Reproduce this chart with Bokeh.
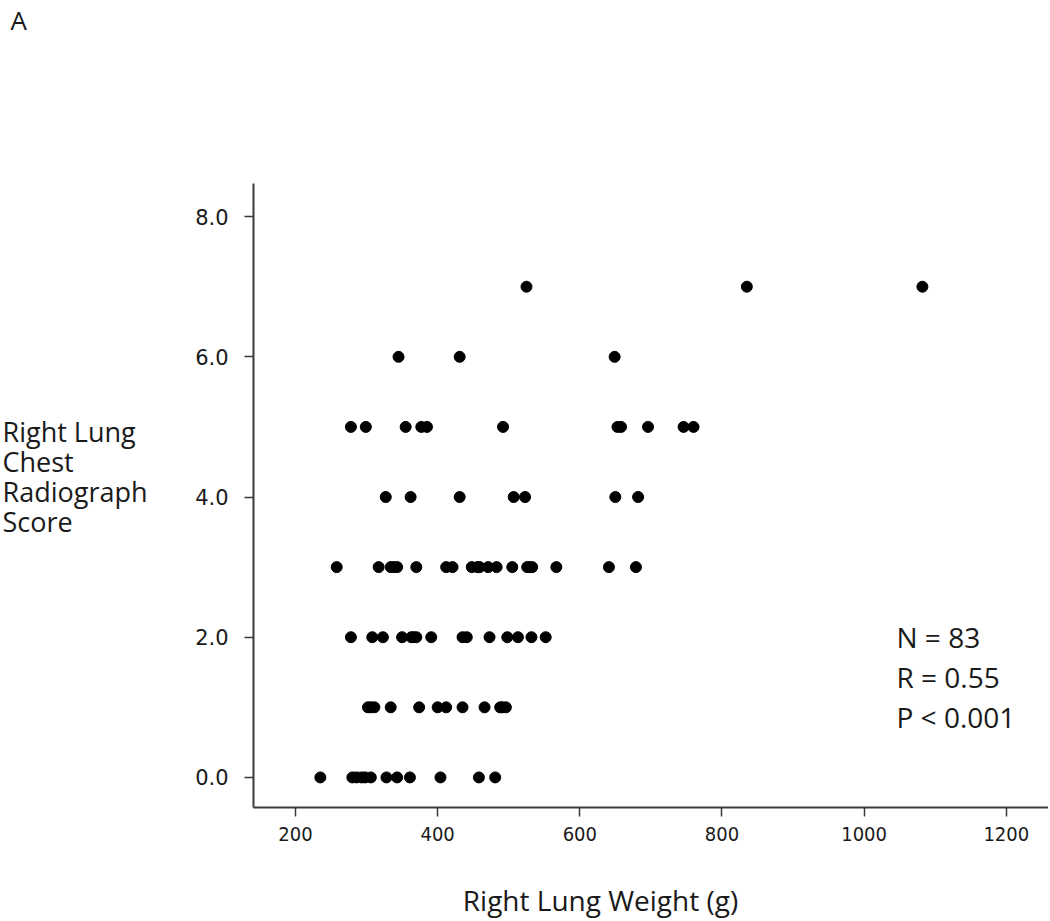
from bokeh.plotting import figure
from bokeh.models import Range1d, FixedTicker, Label
from bokeh.embed import file_html
from bokeh.resources import INLINE

# Right lung weight (g), grouped by chest radiograph score
weights_score0 = [235, 280, 286, 293, 298, 306, 328, 343, 361, 404, 458, 481]
weights_score1 = [302, 306, 311, 334, 374, 400, 412, 435, 466, 488, 491, 496]
weights_score2 = [278, 308, 323, 350, 363, 366, 370, 391, 435, 441, 473, 498, 513, 532, 552]
weights_score3 = [258, 317, 334, 338, 343, 370, 412, 421, 448, 456, 459, 471, 483, 505, 526, 529, 533, 567, 641, 679]
weights_score4 = [327, 362, 431, 507, 523, 650, 682]
weights_score5 = [278, 299, 355, 377, 385, 492, 653, 658, 696, 746, 760]
weights_score6 = [345, 431, 649]
weights_score7 = [525, 835, 1082]

scores = [0, 1, 2, 3, 4, 5, 6, 7]
groups = [weights_score0, weights_score1, weights_score2, weights_score3,
          weights_score4, weights_score5, weights_score6, weights_score7]

x_ticks = [200, 400, 600, 800, 1000, 1200]
y_ticks = [0, 2, 4, 6, 8]
y_tick_labels = ["0.0", "2.0", "4.0", "6.0", "8.0"]

stats_lines = ["N = 83", "R = 0.55", "P < 0.001"]
ylabel_lines = ["Right Lung", "Chest", "Radiograph", "Score"]
xlabel = "Right Lung Weight (g)"
panel_letter = "A"

xs, ys = [], []
for s, g in zip(scores, groups):
    xs.extend(g)
    ys.extend([s] * len(g))

W, H = 1048, 919
p = figure(width=W, height=H, output_backend="svg", toolbar_location=None,
           x_range=Range1d(-215.0, 1259.4), y_range=Range1d(-2.027, 11.083),
           min_border=0)
p.outline_line_color = None
p.xgrid.visible = False
p.ygrid.visible = False
p.background_fill_color = "white"
p.border_fill_color = "white"

p.scatter(xs, ys, size=11, color="black", line_color="black")

axis_col = "#3a3a3a"
for ax in (p.xaxis[0], p.yaxis[0]):
    ax.axis_line_color = axis_col
    ax.axis_line_width = 2
    ax.major_tick_line_color = axis_col
    ax.major_tick_line_width = 1.5
    ax.major_tick_out = 9
    ax.major_tick_in = 0
    ax.minor_tick_line_color = None
    ax.major_label_text_color = "#1a1a1a"

p.xaxis[0].fixed_location = -0.43
p.xaxis[0].bounds = (141, 1259)
p.xaxis[0].ticker = FixedTicker(ticks=x_ticks)
p.xaxis[0].major_label_text_font = "DejaVu Sans Condensed"
p.xaxis[0].major_label_text_font_size = "20px"
p.xaxis[0].major_label_standoff = 10

p.yaxis[0].fixed_location = 141
p.yaxis[0].bounds = (-0.43, 8.47)
p.yaxis[0].ticker = FixedTicker(ticks=y_ticks)
p.yaxis[0].major_label_overrides = {t: l for t, l in zip(y_ticks, y_tick_labels)}
p.yaxis[0].major_label_text_font = "DejaVu Sans"
p.yaxis[0].major_label_text_font_size = "21px"
p.yaxis[0].major_label_standoff = 16

font = "Open Sans"
col = "#1a1a1a"

p.add_layout(Label(x=10, y=19, x_units="canvas", y_units="canvas", text=panel_letter,
                   text_font=font, text_font_size="26px", text_color=col,
                   text_baseline="middle", text_align="left"))

for i, t in enumerate(ylabel_lines):
    p.add_layout(Label(x=2, y=431 + 30 * i, x_units="canvas", y_units="canvas", text=t,
                       text_font=font, text_font_size="27px", text_color=col,
                       text_baseline="middle", text_align="left"))

for i, t in enumerate(stats_lines):
    p.add_layout(Label(x=896, y=636 + 40 * i, x_units="canvas", y_units="canvas", text=t,
                       text_font=font, text_font_size="28px", text_color=col,
                       text_baseline="middle", text_align="left"))

p.add_layout(Label(x=600, y=899, x_units="canvas", y_units="canvas", text=xlabel,
                   text_font=font, text_font_size="28px", text_color=col,
                   text_baseline="middle", text_align="center"))

open("out.html", "w").write(file_html(p, INLINE))
